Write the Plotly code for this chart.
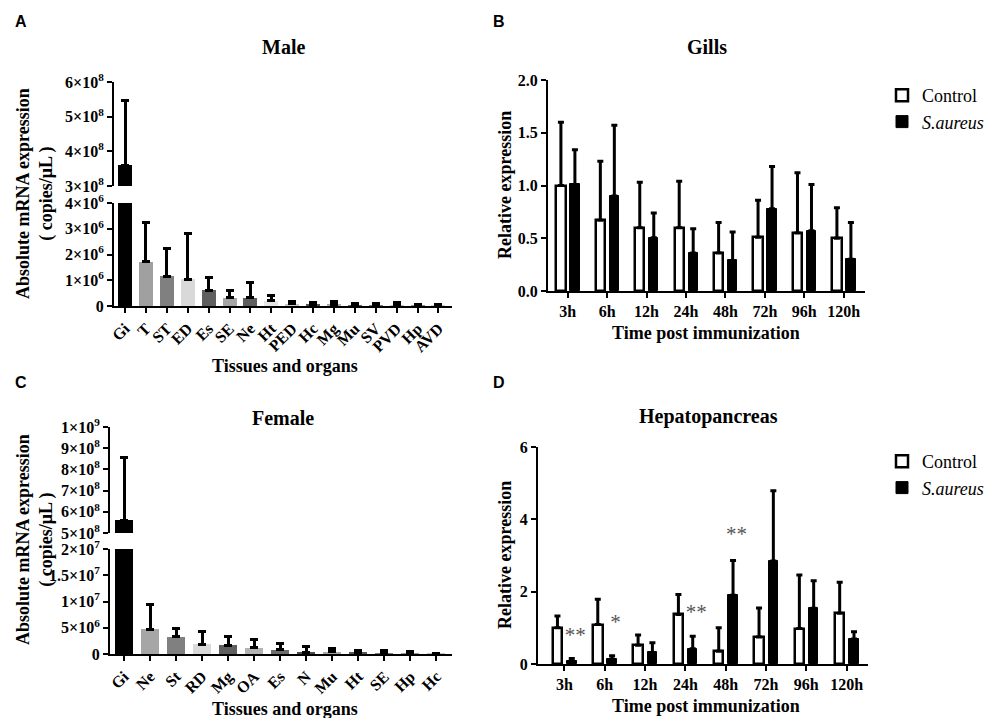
import plotly.graph_objects as go

# ---------------- data ----------------
male_tissues = ["Gi", "T", "ST", "ED", "Es", "SE", "Ne", "Ht", "PED", "Hc", "Mg", "Mu", "SV", "PVD", "Hp", "AVD"]
male_mean = [3.6e8, 1.72e6, 1.15e6, 1.04e6, 0.61e6, 0.32e6, 0.32e6, 0.20e6, 0.08e6, 0.05e6,
             0.06e6, 0.03e6, 0.02e6, 0.02e6, 0.01e6, 0.01e6]
male_sd = [1.88e8, 1.51e6, 1.09e6, 1.76e6, 0.48e6, 0.30e6, 0.58e6, 0.19e6, 0.10e6, 0.10e6,
           0.12e6, 0.07e6, 0.08e6, 0.11e6, 0.05e6, 0.04e6]
male_colors = ["#000000", "#a0a0a0", "#808080", "#d9d9d9", "#5f5f5f", "#a6a6a6", "#5f5f5f", "#e6e6e6",
               "#c8c8c8", "#555555", "#aaaaaa", "#666666", "#7f7f7f", "#bfbfbf", "#8c8c8c", "#d0d0d0"]

female_tissues = ["Gi", "Ne", "St", "RD", "Mg", "OA", "Es", "N", "Mu", "Ht", "SE", "Hp", "Hc"]
female_mean = [5.6e8, 4.76e6, 3.24e6, 1.83e6, 1.70e6, 1.20e6, 0.82e6, 0.20e6, 0.40e6, 0.20e6, 0.10e6, 0.10e6, 0.02e6]
female_sd = [2.94e8, 4.64e6, 1.71e6, 2.42e6, 1.65e6, 1.47e6, 1.18e6, 1.20e6, 0.67e6, 0.50e6, 0.60e6, 0.45e6, 0.03e6]
female_colors = ["#000000", "#a6a6a6", "#808080", "#d9d9d9", "#5f5f5f", "#b3b3b3", "#6e6e6e", "#4d4d4d",
                 "#a6a6a6", "#595959", "#808080", "#999999", "#bfbfbf"]

times = ["3h", "6h", "12h", "24h", "48h", "72h", "96h", "120h"]
gills_ctrl = [1.00, 0.67, 0.60, 0.60, 0.36, 0.51, 0.55, 0.50]
gills_ctrl_sd = [0.60, 0.56, 0.43, 0.44, 0.29, 0.35, 0.57, 0.29]
gills_sa = [1.01, 0.90, 0.505, 0.36, 0.29, 0.78, 0.57, 0.30]
gills_sa_sd = [0.33, 0.67, 0.235, 0.23, 0.27, 0.40, 0.44, 0.35]

hep_ctrl = [1.00, 1.09, 0.52, 1.37, 0.35, 0.75, 0.98, 1.40]
hep_ctrl_sd = [0.33, 0.70, 0.28, 0.55, 0.65, 0.80, 1.48, 0.86]
hep_sa = [0.08, 0.13, 0.32, 0.42, 1.90, 2.85, 1.54, 0.69]
hep_sa_sd = [0.07, 0.10, 0.27, 0.35, 0.96, 1.94, 0.76, 0.20]
hep_sig = ["**", "*", "", "**", "**", "", "", ""]
hep_sig_y = [0.74, 1.10, None, 1.38, 3.54, None, None, None]

male_upper_ticks = [3e8, 4e8, 5e8, 6e8]
male_upper_text = ["3×10<sup>8</sup>", "4×10<sup>8</sup>", "5×10<sup>8</sup>", "6×10<sup>8</sup>"]
male_lower_ticks = [0, 1e6, 2e6, 3e6, 4e6]
male_lower_text = ["0", "1×10<sup>6</sup>", "2×10<sup>6</sup>", "3×10<sup>6</sup>", "4×10<sup>6</sup>"]
female_upper_ticks = [5e8, 6e8, 7e8, 8e8, 9e8, 1e9]
female_upper_text = ["5×10<sup>8</sup>", "6×10<sup>8</sup>", "7×10<sup>8</sup>", "8×10<sup>8</sup>",
                     "9×10<sup>8</sup>", "1×10<sup>9</sup>"]
female_lower_ticks = [0, 5e6, 1e7, 1.5e7, 2e7]
female_lower_text = ["0", "5×10<sup>6</sup>", "1×10<sup>7</sup>", "1.5×10<sup>7</sup>", "2×10<sup>7</sup>"]

# ---------------- helpers ----------------
W, H = 992, 718
def fx(p): return p / W
def fy(p): return 1 - p / H

SERIF = "Liberation Serif, Times New Roman, serif"
tickfont = dict(family=SERIF, size=16, color="black", weight="bold")
tickfont_x = dict(family=SERIF, size=16, color="black", weight="bold")
tickfont_b = dict(family=SERIF, size=16, color="black", weight="bold")
axstyle = dict(showline=True, linecolor="black", linewidth=2, ticks="outside", ticklen=5,
               tickwidth=2, tickcolor="black", showgrid=False, zeroline=False, fixedrange=True,
               automargin=False)

fig = go.Figure()

def err(sd):
    return dict(type="data", array=sd, arrayminus=[0] * len(sd), symmetric=False,
                color="black", thickness=3, width=4)

def err_small(sd):
    return dict(type="data", array=sd, arrayminus=[0] * len(sd), symmetric=False,
                color="black", thickness=3, width=3)

# Panel A (male) - lower & upper segments of the broken axis
for xa, ya in [("x", "y"), ("x2", "y2")]:
    fig.add_trace(go.Bar(x=male_tissues, y=male_mean, error_y=err(male_sd),
                         marker=dict(color=male_colors, line=dict(width=0)), width=0.67,
                         xaxis=xa, yaxis=ya, showlegend=False))
# Panel C (female)
for xa, ya in [("x4", "y4"), ("x5", "y5")]:
    fig.add_trace(go.Bar(x=female_tissues, y=female_mean, error_y=err(female_sd),
                         marker=dict(color=female_colors, line=dict(width=0)), width=0.69,
                         xaxis=xa, yaxis=ya, showlegend=False))

idx = list(range(len(times)))
# Panel B (gills)
fig.add_trace(go.Bar(x=idx, y=gills_ctrl, error_y=err_small(gills_ctrl_sd), name="Control",
                     marker=dict(color="white", line=dict(color="black", width=2.5)),
                     offset=-0.29, width=0.235, xaxis="x3", yaxis="y3", legend="legend"))
fig.add_trace(go.Bar(x=idx, y=gills_sa, error_y=err_small(gills_sa_sd), name="<i>S.aureus</i>",
                     marker=dict(color="black", line=dict(color="black", width=1)),
                     offset=0.065, width=0.235, xaxis="x3", yaxis="y3", legend="legend"))
# Panel D (hepatopancreas)
fig.add_trace(go.Bar(x=idx, y=hep_ctrl, error_y=err_small(hep_ctrl_sd), name="Control",
                     marker=dict(color="white", line=dict(color="black", width=2.5)),
                     offset=-0.29, width=0.235, xaxis="x6", yaxis="y6", legend="legend2"))
fig.add_trace(go.Bar(x=idx, y=hep_sa, error_y=err_small(hep_sa_sd), name="<i>S.aureus</i>",
                     marker=dict(color="black", line=dict(color="black", width=1)),
                     offset=0.065, width=0.235, xaxis="x6", yaxis="y6", legend="legend2"))
fig.add_trace(go.Scatter(x=[i + 0.27 for i in idx], y=hep_sig_y, text=hep_sig, mode="text",
                         textposition="middle center",
                         textfont=dict(family=SERIF, size=21, color="#555555"),
                         xaxis="x6", yaxis="y6", showlegend=False, hoverinfo="skip"))

layout = dict(
    width=W, height=H, margin=dict(l=0, r=0, t=0, b=0, pad=0, autoexpand=False),
    paper_bgcolor="white", plot_bgcolor="white", barmode="overlay", bargap=0,
    # Panel A
    xaxis=dict(**axstyle, domain=[fx(114), fx(452)], anchor="y", range=[-0.53, 15.65],
               tickangle=-45, tickfont=tickfont_x, type="category"),
    yaxis=dict(**axstyle, domain=[fy(306), fy(203)], anchor="x", range=[0, 4e6],
               tickvals=male_lower_ticks, ticktext=male_lower_text, tickfont=tickfont),
    xaxis2=dict(domain=[fx(114), fx(452)], anchor="y2", range=[-0.53, 15.65], visible=False,
                type="category", fixedrange=True, automargin=False),
    yaxis2=dict(**axstyle, domain=[fy(186), fy(82)], anchor="x2", range=[3e8, 6e8],
                tickvals=male_upper_ticks, ticktext=male_upper_text, tickfont=tickfont),
    # Panel B
    xaxis3=dict(**axstyle, domain=[fx(548), fx(865)], anchor="y3", range=[-0.5, 7.54],
                tickvals=idx, ticktext=times, tickfont=tickfont_b),
    yaxis3=dict(**axstyle, domain=[fy(291), fy(80)], anchor="x3", range=[0, 2.0],
                tickvals=[0, 0.5, 1.0, 1.5, 2.0], tickformat=".1f", tickfont=tickfont_b),
    # Panel C
    xaxis4=dict(**axstyle, domain=[fx(110), fx(452)], anchor="y4", range=[-0.54, 12.6],
                tickangle=-45, tickfont=tickfont_x, type="category"),
    yaxis4=dict(**axstyle, domain=[fy(654), fy(549)], anchor="x4", range=[0, 2e7],
                tickvals=female_lower_ticks, ticktext=female_lower_text, tickfont=tickfont),
    xaxis5=dict(domain=[fx(110), fx(452)], anchor="y5", range=[-0.54, 12.6], visible=False,
                type="category", fixedrange=True, automargin=False),
    yaxis5=dict(**axstyle, domain=[fy(533), fy(427)], anchor="x5", range=[5e8, 1e9],
                tickvals=female_upper_ticks, ticktext=female_upper_text, tickfont=tickfont),
    # Panel D
    xaxis6=dict(**axstyle, domain=[fx(538), fx(868)], anchor="y6", range=[-0.655, 7.53],
                tickvals=idx, ticktext=times, tickfont=tickfont_b),
    yaxis6=dict(**axstyle, domain=[fy(664), fy(447)], anchor="x6", range=[0, 6],
                tickvals=[0, 2, 4, 6], tickfont=tickfont_b),
    legend=dict(x=fx(882), y=fy(77), xanchor="left", yanchor="top", bgcolor="rgba(0,0,0,0)",
                font=dict(family=SERIF, size=18, color="black"), itemwidth=30, tracegroupgap=2),
    legend2=dict(x=fx(882), y=fy(443), xanchor="left", yanchor="top", bgcolor="rgba(0,0,0,0)",
                 font=dict(family=SERIF, size=18, color="black"), itemwidth=30, tracegroupgap=0),
)
fig.update_layout(**layout)

SANS = "Liberation Sans, Arial, sans-serif"
def ann(text, x, y, size, family=SERIF, bold=True, angle=0):
    fig.add_annotation(text=text, x=fx(x), y=fy(y), xref="paper", yref="paper",
                       showarrow=False, textangle=angle, xanchor="center", yanchor="middle",
                       font=dict(family=family, size=size, color="black",
                                 weight="bold" if bold else "normal"))

ann("A", 21, 22, 16, SANS)
ann("B", 499, 22, 16, SANS)
ann("C", 21, 382, 16, SANS)
ann("D", 499, 382, 16, SANS)
ann("Male", 283, 47, 20)
ann("Gills", 707, 47, 20)
ann("Female", 283, 418, 20)
ann("Hepatopancreas", 708, 416, 20)
ann("Absolute mRNA expression<br>( copies/μL )", 35, 194, 18, angle=-90)
ann("Absolute mRNA expression<br>( copies/μL )", 35, 540, 18, angle=-90)
ann("Relative expression", 505, 185, 18, angle=-90)
ann("Relative expression", 505, 555, 18, angle=-90)
ann("Tissues and organs", 285, 366, 18)
ann("Tissues and organs", 285, 709, 18)
ann("Time post immunization", 706, 333, 18)
ann("Time post immunization", 706, 706, 18)

fig.write_html("out.html", config={"displayModeBar": False},
               post_script="document.body.style.margin='0px';")
